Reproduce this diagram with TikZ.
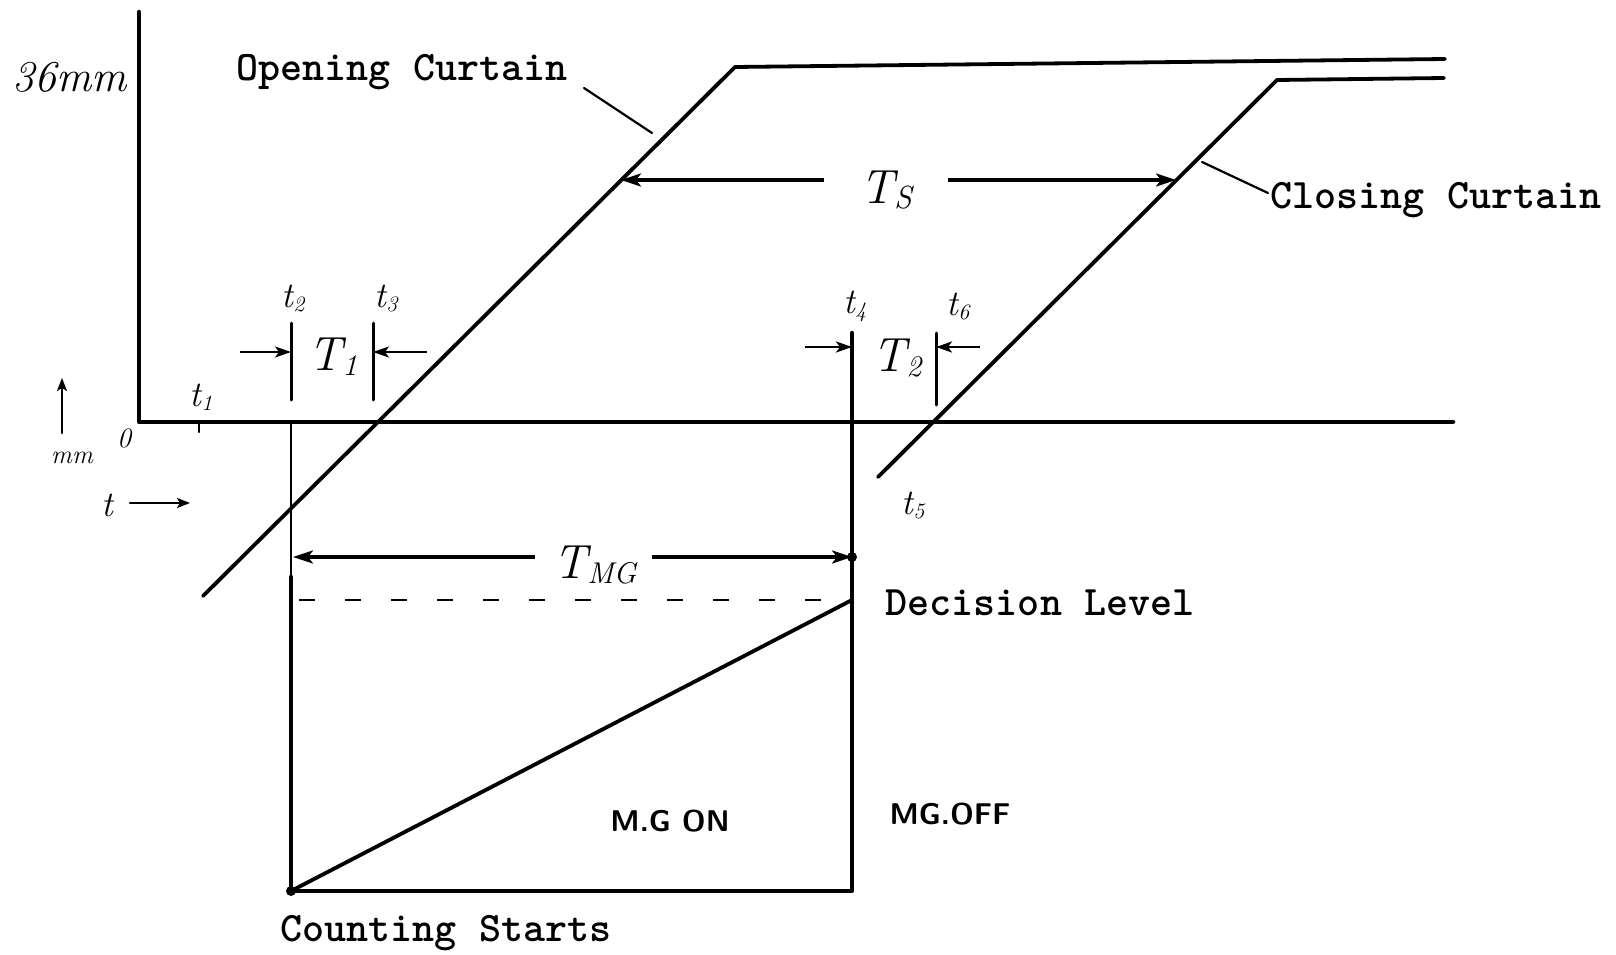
\documentclass[tikz,border=0pt]{standalone}
\usepackage{fontspec}
\usetikzlibrary{arrows.meta}
\tikzset{
  heavy/.style={line width=4.5pt, line cap=round, line join=round},
  curtain/.style={line width=3.8pt, line cap=round, line join=round},
  light/.style={line width=2.2pt, line cap=round},
  tick/.style={line width=3pt, line cap=round},
  typed/.style={font=\fontsize{42}{48}\selectfont\ttfamily\bfseries, inner sep=0pt},
  hand/.style={font=\fontsize{36}{40}\selectfont\itshape, inner sep=0pt},
  bighand/.style={font=\fontsize{48}{50}\selectfont\itshape, inner sep=0pt},
  dimarrow/.style={line width=3.2pt, -{Stealth[length=20pt,width=13pt,inset=5pt]}},
  smallarrow/.style={line width=2.8pt, -{Stealth[length=16pt,width=11pt,inset=4pt]}},
  dot/.style={circle, fill=black, inner sep=0pt, minimum size=10pt},
}
\begin{document}
\begin{tikzpicture}[x=1pt,y=-1pt]
\useasboundingbox (0,0) rectangle (1616,955);
% axes
\coordinate (O) at (139,422);
\coordinate (ytop) at (139,12);
\coordinate (xend) at (1453,422);
\draw[heavy] (ytop) -- (O) -- (xend);
% opening curtain
\coordinate (oc0) at (203,596);
\coordinate (oc1) at (735,67);
\coordinate (oc2) at (1445,59);
\draw[curtain] (oc0) -- (oc1) -- (oc2);
% closing curtain
\coordinate (cc0) at (878,477);
\coordinate (cc1) at (1277,80);
\coordinate (cc2) at (1444,78);
\draw[curtain] (cc0) -- (cc1) -- (cc2);
% labels
\node[hand, font=\fontsize{44}{48}\selectfont\itshape] (mm36) at (70,77) {36mm};
\node[typed] (open) at (402,72) {Opening Curtain};
\coordinate (openA) at (584,88);
\coordinate (openB) at (652,133);
\draw[light] (openA) -- (openB);
\node[typed] (close) at (1436,200) {Closing Curtain};
\coordinate (closeA) at (1202,162);
\coordinate (closeB) at (1268,193);
\draw[light] (closeA) -- (closeB);
% Ts
\node[bighand] (Ts) at (886,190) {T\raisebox{-5pt}{\fontsize{32}{34}\selectfont S}};
\coordinate (tsL) at (621,180);
\coordinate (tsR) at (1176,180);
\coordinate (tsLa) at (824,180);
\coordinate (tsRa) at (948,180);
\draw[dimarrow] (tsLa) -- (tsL);
\draw[dimarrow] (tsRa) -- (tsR);
% t ticks
\coordinate (t1) at (199,422);
\coordinate (t1b) at (199,432);
\draw[light] (t1) -- (t1b);
\node[hand] (lt1) at (201,397) {t\raisebox{-4pt}{\fontsize{22}{24}\selectfont 1}};
\coordinate (t2top) at (291,323);
\coordinate (t2bot) at (291,400);
\draw[tick] (t2top) -- (t2bot);
\coordinate (t3top) at (373,323);
\coordinate (t3bot) at (373,400);
\draw[tick] (t3top) -- (t3bot);
\node[hand] (lt2) at (293,298) {t\raisebox{-4pt}{\fontsize{22}{24}\selectfont 2}};
\node[hand] (lt3) at (386,298) {t\raisebox{-4pt}{\fontsize{22}{24}\selectfont 3}};
\coordinate (T1a) at (240,352);
\coordinate (T1b) at (427,352);
\draw[smallarrow] (T1a) -- (t2top |- T1a);
\draw[smallarrow] (T1b) -- (t3top |- T1b);
\node[bighand] (T1) at (333,357) {T\raisebox{-5pt}{\fontsize{30}{32}\selectfont 1}};
% t4, t6
\coordinate (t4top) at (852,333);
\coordinate (t6top) at (936,333);
\coordinate (t6bot) at (936,405);
\draw[tick] (t6top) -- (t6bot);
\node[hand] (lt4) at (855,306) {t\raisebox{-4pt}{\fontsize{22}{24}\selectfont 4}};
\node[hand] (lt6) at (958,306) {t\raisebox{-4pt}{\fontsize{22}{24}\selectfont 6}};
\coordinate (T2a) at (805,347);
\coordinate (T2b) at (980,347);
\draw[smallarrow] (T2a) -- (t4top |- T2a);
\draw[smallarrow] (T2b) -- (t6top |- T2b);
\node[bighand] (T2) at (897,358) {T\raisebox{-5pt}{\fontsize{30}{32}\selectfont 2}};
\node[hand] (lt5) at (913,505) {t\raisebox{-4pt}{\fontsize{22}{24}\selectfont 5}};
% axis annotations
\node[hand, font=\fontsize{28}{30}\selectfont\itshape] (zero) at (124,438) {0};
\coordinate (upA) at (62,433);
\coordinate (upB) at (62,378);
\draw[light, -{Stealth[length=13pt,width=10pt,inset=3pt]}] (upA) -- (upB);
\node[hand, font=\fontsize{26}{28}\selectfont\itshape] (xmm) at (72,458) {mm};
\node[hand] (tt) at (107,505) {t};
\coordinate (tA) at (130,503);
\coordinate (tB) at (190,503);
\draw[light, -{Stealth[length=13pt,width=10pt,inset=3pt]}] (tA) -- (tB);
% box
\coordinate (bl) at (291,891);
\coordinate (br) at (852,891);
\coordinate (lmid) at (291,577);
\coordinate (laxis) at (291,422);
\draw[light] (laxis) -- (lmid);
\draw[heavy] (lmid) -- (bl) -- (br) -- (t4top);
% TMG
\coordinate (tmgL) at (293,557);
\coordinate (tmgR) at (852,557);
\coordinate (tmgLa) at (535,557);
\coordinate (tmgRa) at (652,557);
\draw[dimarrow] (tmgLa) -- (tmgL);
\draw[dimarrow] (tmgRa) -- (tmgR);
\node[dot] (tmgdot) at (tmgR) {};
\node[bighand] (TMG) at (595,565) {T\raisebox{-5pt}{\fontsize{30}{32}\selectfont MG}};
% decision level
\coordinate (decL) at (299,600);
\coordinate (decR) at (852,600);
\draw[line width=2.5pt, dash pattern=on 16pt off 30pt] (decL) -- (decR);
\node[typed] (dec) at (1040,603) {Decision Level};
% ramp
\node[dot] (cs) at (bl) {};
\draw[curtain] (cs.center) -- (decR);
\node[typed] (count) at (446,933) {Counting Starts};
\node[hand, font=\fontsize{30}{32}\selectfont\sffamily\bfseries] (mgon) at (670,821) {M.G ON};
\node[hand, font=\fontsize{30}{32}\selectfont\sffamily\bfseries] (mgoff) at (950,814) {MG.OFF};
\end{tikzpicture}
\end{document}
